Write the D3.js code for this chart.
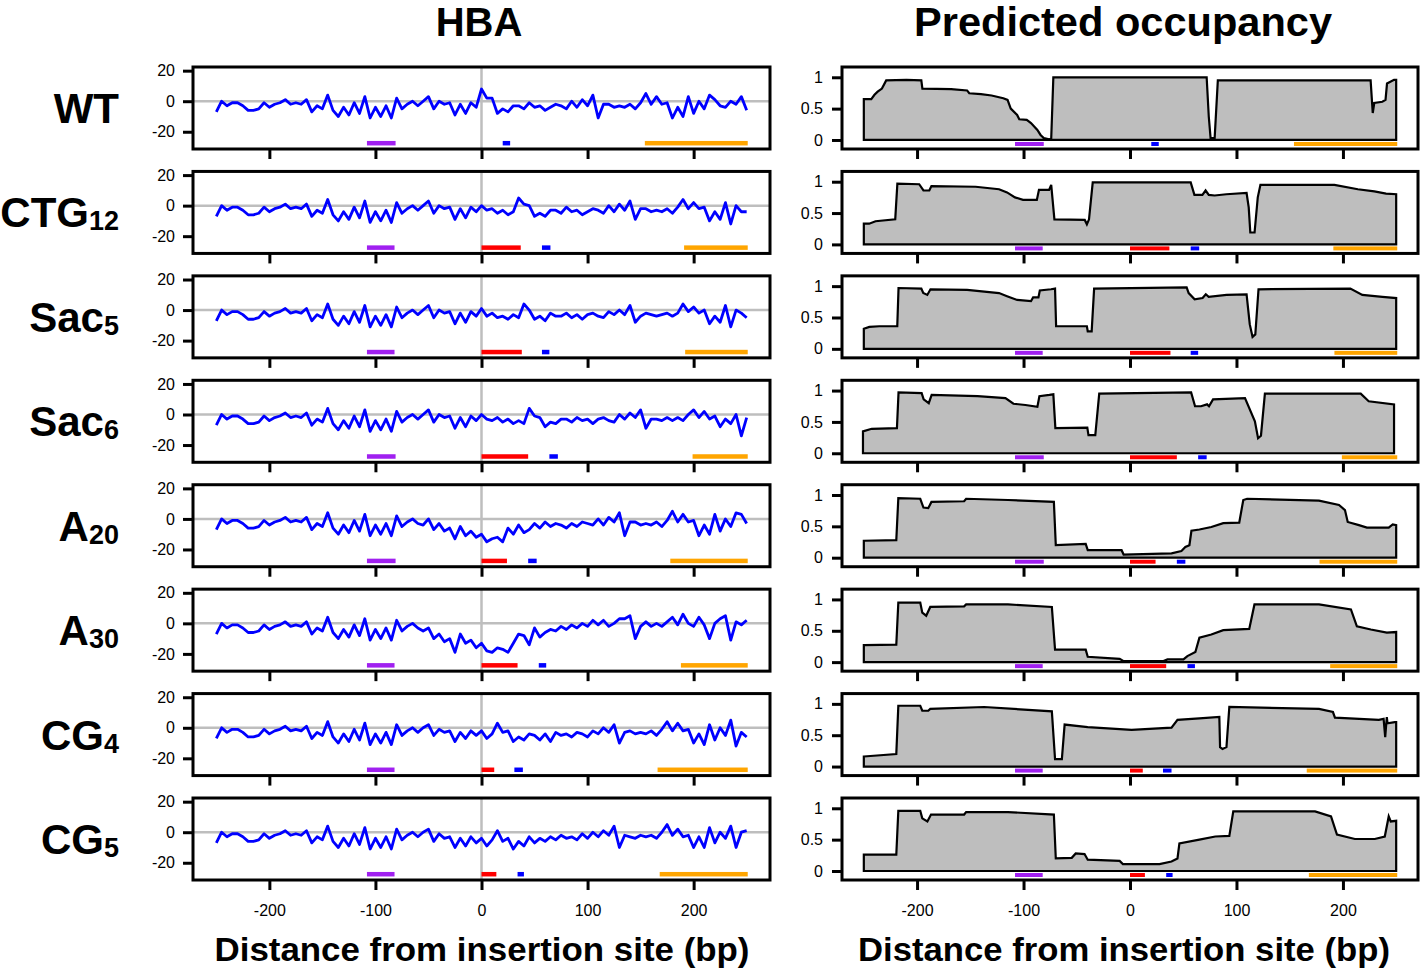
<!DOCTYPE html>
<html>
<head>
<meta charset="utf-8">
<script src="https://cdn.jsdelivr.net/npm/d3@7"></script>
<style>
  body { margin: 0; background: #fff; }
  svg { display: block; font-family: "Liberation Sans", Arial, Helvetica, sans-serif; }
</style>
</head>
<body>
<svg id="chart" width="1424" height="972"></svg>
<script>
// Row labels (construct name + subscript)
var rowNames = ["WT", "CTG", "Sac", "Sac", "A", "A", "CG", "CG"];
var rowSubs = ["", "12", "5", "6", "20", "30", "4", "5"];

// HBA signal, one value every 5 bp from -250 to 250
var hbaUpstream = [-7, 0, -3, -1, -1, -3, -6, -6, -5, -1, -4, -2, -1, 1, -2, -1, -2, 1, -7, -3,
    -5, 4, -6, -10, -4, -9, -1, -8, 3, -11, -4, -10, -3, -11, 2, -5, -2, 0]; // -250 .. -65
var hbaWT = [-3, 0, 3, -5, 0, -2, -1, -9, -2, -8, -1, -4,
    8, 2, 2, -8, -5, -7, -3, -3, -5, -1, -4, -3, -6, -4, -2, -3, -5, 0, -4, 1,
    -3, 4, -11, -2, -2, -4, -3, -4, -2, -5, -1, 5, -2, 3, -2, -1, -11, -4, -10, 3,
    -8, 0, -5, 4, 1, -3, -4, 0, -2, 3, -6];
var hbaCTG12 = [-3, 0, 3, -5, 0, -2, -1, -9, -2, -8, -1, -4,
    0, -3, -2, -5, -3, -6, -4, 5, 1, 0, -7, -5, -7, -3, -3, -5, -1, -4, -3, -6,
    -4, -2, -3, -5, 0, -4, 1, -3, 3, -9, -2, -2, -4, -3, -4, -2, -5, -1, 4, -2,
    2, -2, -1, -10, -4, -9, 2, -12, 0, -4, -4];
var hbaSac5 = [-3, 0, 3, -5, 0, -2, -1, -9, -2, -8, -1, -4,
    1, -4, -2, -5, -4, -6, -3, -5, 4, 0, -6, -4, -7, -2, -4, -4, -2, -5, -3, -6,
    -3, -2, -4, -5, -1, -3, 0, -3, 3, -8, -4, -2, -3, -4, -3, -2, -4, -2, 4, -1,
    2, -2, 0, -9, -4, -8, 3, -11, 0, -2, -5];
var hbaSac6 = [-3, 0, 3, -5, 0, -2, -1, -9, -2, -8, -1, -4,
    0, -3, -4, -2, -5, -3, -6, -4, -6, 4, -1, -2, -8, -5, -6, -3, -3, -5, -2, -4,
    -3, -6, -3, -2, -4, -5, 0, -3, 1, -2, 3, -9, -3, -3, -4, -2, -4, -2, -4, 0,
    3, -2, 2, -3, -1, -8, -3, -6, 0, -14, -2];
var hbaA20 = [-3, -4, 0, -7, -3, -8, -6, -13, -5, -11, -8, -12,
    -10, -15, -13, -12, -15, -6, -10, -4, -9, -7, -3, -6, -2, -5, -3, -4, -6, -3, -5, -2,
    -3, -4, 0, -4, 1, -2, 4, -11, -2, -2, -4, -3, -4, -2, -5, -1, 5, -2, 3, -2,
    -1, -11, -4, -10, 3, -8, 0, -5, 4, 3, -3];
var hbaA30 = [-3, -5, -3, -10, -7, -12, -10, -19, -7, -13, -11, -16,
    -13, -18, -19, -16, -17, -19, -13, -7, -8, -14, -3, -9, -6, -4, -5, -2, -4, -1, -3, 0,
    -2, 2, -1, 2, -2, 0, 3, 3, 5, -10, -2, 1, -2, 0, -2, 1, 4, -1, 6, 0,
    -2, 4, -1, -10, 0, 3, 5, -11, 1, -1, 2];
var hbaCG4 = [-3, 0, 2, -5, -1, -3, -2, -9, -3, -7, -2, -5,
    -2, -7, -4, 3, -3, -2, -9, -6, -8, -4, -5, -8, -4, -9, -3, -5, -4, -6, -3, -4,
    -6, -2, -4, 0, -3, 2, -10, -3, -2, -4, -3, -4, -2, -5, -1, 4, -2, 3, -2, -1,
    -10, -4, -11, 2, -8, 0, -5, 5, -12, -3, -6];
var hbaCG5 = [-3, 0, 2, -6, -1, -4, -3, -10, -4, -9, -3, -7,
    -4, -9, -5, 1, -6, -4, -11, -6, -9, -3, -7, -4, -6, -3, -5, -2, -4, -3, -5, -1,
    -4, 0, -3, 1, -2, 4, -10, -2, -3, -4, -2, -3, -2, -4, 0, 5, -2, 2, -3, -2,
    -10, -3, -10, 3, -7, 0, -4, 4, -10, 0, 1];
var hbaDownstream = [hbaWT, hbaCTG12, hbaSac5, hbaSac6, hbaA20, hbaA30, hbaCG4, hbaCG5];

// Predicted occupancy profiles, [bp, occupancy]
var occWT = [[-250, 0.65], [-243, 0.65], [-240, 0.72], [-237, 0.77], [-233, 0.82], [-229, 0.95], [-210, 0.96],
    [-196, 0.95], [-195, 0.82], [-168, 0.81], [-153, 0.79], [-151, 0.745], [-140, 0.73], [-130, 0.71],
    [-119, 0.665], [-115, 0.64], [-112, 0.5], [-106, 0.4], [-104, 0.33], [-97, 0.32], [-93, 0.27],
    [-87, 0.16], [-84, 0.08], [-81, 0.03], [-76, 0.01], [-74, 0.02], [-72, 1.0], [72, 1.0], [74, 0.37],
    [75.7, 0.03], [79.5, 0.03], [82.5, 0.95], [226, 0.95], [228, 0.43], [229.4, 0.59], [237, 0.61],
    [240, 0.64], [241.4, 0.9], [248, 0.96], [250, 0.96]];
var occCTG12 = [[-250, 0.33], [-245, 0.33], [-239, 0.37], [-220.5, 0.40], [-218.5, 0.97], [-198, 0.96],
    [-194, 0.86], [-188.5, 0.86], [-186.5, 0.93], [-145, 0.92], [-123, 0.88], [-115.5, 0.83], [-108, 0.75],
    [-100.5, 0.71], [-87.5, 0.71], [-85.5, 0.87], [-76, 0.87], [-74, 0.95], [-71, 0.40], [-42.5, 0.39],
    [-40.5, 0.32], [-38.5, 0.40], [-35, 0.99], [57, 0.99], [60.5, 0.79], [68, 0.79], [71, 0.86], [74, 0.79],
    [79.5, 0.78], [90.5, 0.80], [109.5, 0.82], [111.5, 0.59], [113, 0.19], [117, 0.19], [120, 0.75],
    [122.5, 0.95], [192, 0.95], [214, 0.88], [229.5, 0.845], [240.5, 0.81], [250, 0.80]];
var occSac5 = [[-250, 0.32], [-244.8, 0.35], [-235.4, 0.36], [-218.6, 0.36], [-217.4, 0.97], [-196, 0.96],
    [-194.2, 0.89], [-190.4, 0.86], [-187.4, 0.95], [-153, 0.94], [-123, 0.89], [-115.5, 0.84], [-106, 0.78],
    [-93, 0.76], [-91, 0.82], [-86, 0.82], [-84.7, 0.93], [-74.2, 0.95], [-70.4, 0.96], [-69.4, 0.36],
    [-40.5, 0.36], [-39.7, 0.28], [-36, 0.28], [-33.7, 0.96], [53.2, 0.98], [55.1, 0.89], [60.7, 0.79],
    [68.2, 0.81], [71.2, 0.87], [73.9, 0.83], [90.7, 0.86], [109.5, 0.87], [112.5, 0.39], [115.1, 0.19],
    [117.7, 0.23], [120.7, 0.95], [207, 0.96], [218.2, 0.86], [237, 0.83], [250, 0.81]];
var occSac6 = [[-250.8, 0.35], [-242.6, 0.39], [-218.9, 0.40], [-217.4, 0.97], [-195.7, 0.96], [-193.8, 0.86],
    [-189, 0.80], [-186.3, 0.93], [-143.2, 0.91], [-117, 0.88], [-109.5, 0.79], [-98.2, 0.77], [-87, 0.74],
    [-85.1, 0.91], [-75.7, 0.93], [-72, 0.94], [-70.1, 0.40], [-40.1, 0.41], [-39, 0.29], [-32.6, 0.29],
    [-28.9, 0.95], [57.4, 0.97], [61.1, 0.75], [66.7, 0.75], [72.4, 0.78], [74.2, 0.75], [78, 0.86],
    [108, 0.88], [117.3, 0.51], [120.3, 0.24], [123, 0.28], [126.7, 0.95], [216.7, 0.95], [224.2, 0.83],
    [248, 0.78]];
var occA20 = [[-250, 0.27], [-219.5, 0.28], [-217.6, 0.95], [-197, 0.94], [-194, 0.80], [-189.5, 0.79],
    [-186.5, 0.89], [-155.8, 0.90], [-153.9, 0.94], [-114.6, 0.92], [-71.5, 0.89], [-69.7, 0.20],
    [-41.6, 0.22], [-39.7, 0.12], [-7.9, 0.12], [-6, 0.05], [39, 0.07], [48.3, 0.107], [52, 0.17],
    [55.8, 0.20], [57.7, 0.43], [65.2, 0.45], [76.4, 0.49], [87.6, 0.55], [102.6, 0.56], [106.4, 0.92],
    [110, 0.94], [177.5, 0.91], [196.3, 0.84], [201.9, 0.76], [204.5, 0.57], [215, 0.52], [222.5, 0.48],
    [243, 0.48], [246.8, 0.53], [250, 0.52]];
var occA30 = [[-250, 0.27], [-219.5, 0.28], [-217.6, 0.95], [-197, 0.95], [-195.1, 0.79], [-191.4, 0.74],
    [-187.6, 0.88], [-155.8, 0.89], [-153.9, 0.92], [-114.6, 0.92], [-73.4, 0.88], [-70.4, 0.20],
    [-41.6, 0.20], [-39.7, 0.085], [-9.7, 0.053], [-6, 0.016], [31.5, 0.016], [35.2, 0.043], [50.2, 0.043],
    [53.9, 0.096], [61.4, 0.16], [65.2, 0.39], [76.4, 0.44], [87.6, 0.51], [112, 0.53], [116.9, 0.92],
    [177.5, 0.92], [207.5, 0.84], [213.1, 0.57], [226.2, 0.52], [241.2, 0.47], [250, 0.48]];
var occCG4 = [[-250, 0.16], [-219.5, 0.20], [-217.6, 0.97], [-197, 0.97], [-195.1, 0.89], [-189.5, 0.89],
    [-187.6, 0.92], [-137.1, 0.95], [-73.4, 0.88], [-70.4, 0.12], [-64, 0.12], [-61.4, 0.67], [-39.7, 0.63],
    [1.5, 0.585], [39, 0.62], [44.6, 0.745], [65.2, 0.77], [83.9, 0.79], [84.6, 0.31], [86.9, 0.28],
    [90.6, 0.31], [93.3, 0.95], [177.5, 0.92], [190.6, 0.87], [192.5, 0.78], [233.7, 0.745], [238.2, 0.76],
    [239.7, 0.47], [241.2, 0.79], [241.9, 0.69], [248.7, 0.71], [250, 0.71]];
var occCG5 = [[-250, 0.26], [-219.5, 0.26], [-217.6, 0.96], [-197, 0.96], [-195.1, 0.84], [-190.3, 0.79],
    [-186.9, 0.90], [-155.8, 0.90], [-153.9, 0.94], [-114.6, 0.94], [-71.5, 0.90], [-69.7, 0.20],
    [-54.7, 0.21], [-51, 0.28], [-42.7, 0.27], [-39.7, 0.18], [-9.7, 0.16], [-6.7, 0.11], [27.7, 0.11],
    [39, 0.15], [44.6, 0.2], [46.4, 0.44], [65.2, 0.50], [80.1, 0.55], [93.3, 0.56], [97, 0.95],
    [173.8, 0.95], [188.8, 0.87], [194.4, 0.58], [211.2, 0.51], [229.9, 0.51], [239.3, 0.55], [243, 0.87],
    [244.9, 0.79], [250, 0.80]];
var occRows = [occWT, occCTG12, occSac5, occSac6, occA20, occA30, occCG4, occCG5];

// Feature bars under each panel, [start bp, end bp]
var purpleBars = [[-108, -81], [-108, -82], [-108, -82], [-108, -81], [-108, -81], [-108, -82], [-108, -82], [-108, -82]];
var redBars = [null, [0, 37], [0, 38], [0, 44], [0, 24], [0, 34], [0, 12], [0, 14]];
var blueBars = [[20, 27], [57, 65], [57, 64], [64, 72], [44, 52], [54, 61], [31, 39], [34, 40]];
var orangeBars = [[154, 251], [191, 251], [192, 251], [199, 251], [178, 251], [188, 251], [166, 251], [168, 251]];

var xTicks = [-200, -100, 0, 100, 200];

var svg = d3.select("#chart");

var rowTop0 = 67, rowStep = 104.43, rowH = 82;
var xL = d3.scaleLinear().domain([-272, 272]).range([193, 770]);
var xR = d3.scaleLinear().domain([-270.5, 270.5]).range([842, 1418]);

// Column headers
svg.append("text").attr("x", 479).attr("y", 36).attr("text-anchor", "middle")
    .attr("font-size", 40).attr("font-weight", "bold").text("HBA");
svg.append("text").attr("x", 1123).attr("y", 36).attr("text-anchor", "middle")
    .attr("font-size", 40).attr("font-weight", "bold")
    .attr("textLength", 418).attr("lengthAdjust", "spacingAndGlyphs").text("Predicted occupancy");

function drawBars(g, x, y, yv, h, i) {
    var bars = [[purpleBars[i], "#A020F0"], [redBars[i], "#FF0000"], [blueBars[i], "#0000FF"], [orangeBars[i], "#FFA500"]];
    bars.forEach(function(b) {
        if (!b[0]) return;
        g.append("rect")
            .attr("x", x(b[0][0]))
            .attr("width", x(b[0][1]) - x(b[0][0]))
            .attr("y", y(yv) - h / 2)
            .attr("height", h)
            .attr("fill", b[1]);
    });
}

function styleAxis(ax) {
    ax.select(".domain").remove();
    ax.selectAll(".tick line").attr("stroke", "#000").attr("stroke-width", 3);
    ax.selectAll(".tick text").attr("fill", "#000").attr("font-size", 16)
        .attr("font-family", "'Liberation Sans', Arial, sans-serif");
}

function drawRow(i) {
    var rowTop = rowTop0 + i * rowStep;
    var rowBottom = rowTop + rowH;
    var last = (i === 7);

    // Row label with subscript
    var lab = svg.append("text").attr("x", 119).attr("y", rowTop + 56)
        .attr("text-anchor", "end").attr("font-weight", "bold").attr("font-size", 42);
    lab.append("tspan").text(rowNames[i]);
    if (rowSubs[i]) lab.append("tspan").attr("font-size", 27).attr("dy", 3).text(rowSubs[i]);

    // ---- HBA panel ----
    var yL = d3.scaleLinear().domain([-31.3, 22.4]).range([rowBottom, rowTop]);
    var gL = svg.append("g");
    gL.append("line").attr("x1", xL.range()[0]).attr("x2", xL.range()[1])
        .attr("y1", yL(0)).attr("y2", yL(0)).attr("stroke", "#BEBEBE").attr("stroke-width", 2.5);
    gL.append("line").attr("x1", xL(0)).attr("x2", xL(0))
        .attr("y1", rowTop).attr("y2", rowBottom).attr("stroke", "#BEBEBE").attr("stroke-width", 2.5);

    var vals = hbaUpstream.concat(hbaDownstream[i]);
    var pts = vals.map(function(v, k) { return { bp: -250 + 5 * k, v: v }; });
    var line = d3.line().x(function(d) { return xL(d.bp); }).y(function(d) { return yL(d.v); });
    gL.append("path").datum(pts).attr("d", line).attr("fill", "none")
        .attr("stroke", "#0000FF").attr("stroke-width", 2.8).attr("stroke-linejoin", "round");

    drawBars(gL, xL, yL, -27.5, 4.5, i);

    gL.append("rect").attr("x", xL.range()[0]).attr("y", rowTop)
        .attr("width", xL.range()[1] - xL.range()[0]).attr("height", rowH)
        .attr("fill", "none").attr("stroke", "#000").attr("stroke-width", 3);

    var ayL = gL.append("g").attr("transform", "translate(" + xL.range()[0] + ",0)")
        .call(d3.axisLeft(yL).tickValues([-20, 0, 20]).tickSize(10).tickPadding(8)
            .tickFormat(function(d) { return String(d); }));
    styleAxis(ayL);
    var axL = gL.append("g").attr("transform", "translate(0," + rowBottom + ")")
        .call(d3.axisBottom(xL).tickValues(xTicks).tickSize(10).tickPadding(15)
            .tickFormat(function(d) { return last ? String(d) : ""; }));
    styleAxis(axL);

    // ---- Predicted occupancy panel ----
    var yR = d3.scaleLinear().domain([-0.144, 1.164]).range([rowBottom, rowTop]);
    var gR = svg.append("g");
    var area = d3.area()
        .x(function(d) { return xR(d[0]); })
        .y0(yR(0))
        .y1(function(d) { return yR(d[1]); });
    gR.append("path").datum(occRows[i]).attr("d", area)
        .attr("fill", "#BEBEBE").attr("stroke", "#000").attr("stroke-width", 2.2);

    drawBars(gR, xR, yR, -0.064, 4, i);

    gR.append("rect").attr("x", xR.range()[0]).attr("y", rowTop)
        .attr("width", xR.range()[1] - xR.range()[0]).attr("height", rowH)
        .attr("fill", "none").attr("stroke", "#000").attr("stroke-width", 3);

    var ayR = gR.append("g").attr("transform", "translate(" + xR.range()[0] + ",0)")
        .call(d3.axisLeft(yR).tickValues([0, 0.5, 1]).tickSize(10).tickPadding(9)
            .tickFormat(function(d) { return String(d); }));
    styleAxis(ayR);
    var axR = gR.append("g").attr("transform", "translate(0," + rowBottom + ")")
        .call(d3.axisBottom(xR).tickValues(xTicks).tickSize(10).tickPadding(15)
            .tickFormat(function(d) { return last ? String(d) : ""; }));
    styleAxis(axR);
}

for (var r = 0; r < rowNames.length; r++) drawRow(r);

// Axis titles
svg.append("text").attr("x", 482).attr("y", 961).attr("text-anchor", "middle")
    .attr("font-size", 33).attr("font-weight", "bold")
    .attr("textLength", 535).attr("lengthAdjust", "spacingAndGlyphs")
    .text("Distance from insertion site (bp)");
svg.append("text").attr("x", 1124).attr("y", 961).attr("text-anchor", "middle")
    .attr("font-size", 33).attr("font-weight", "bold")
    .attr("textLength", 532).attr("lengthAdjust", "spacingAndGlyphs")
    .text("Distance from insertion site (bp)");
</script>
</body>
</html>
